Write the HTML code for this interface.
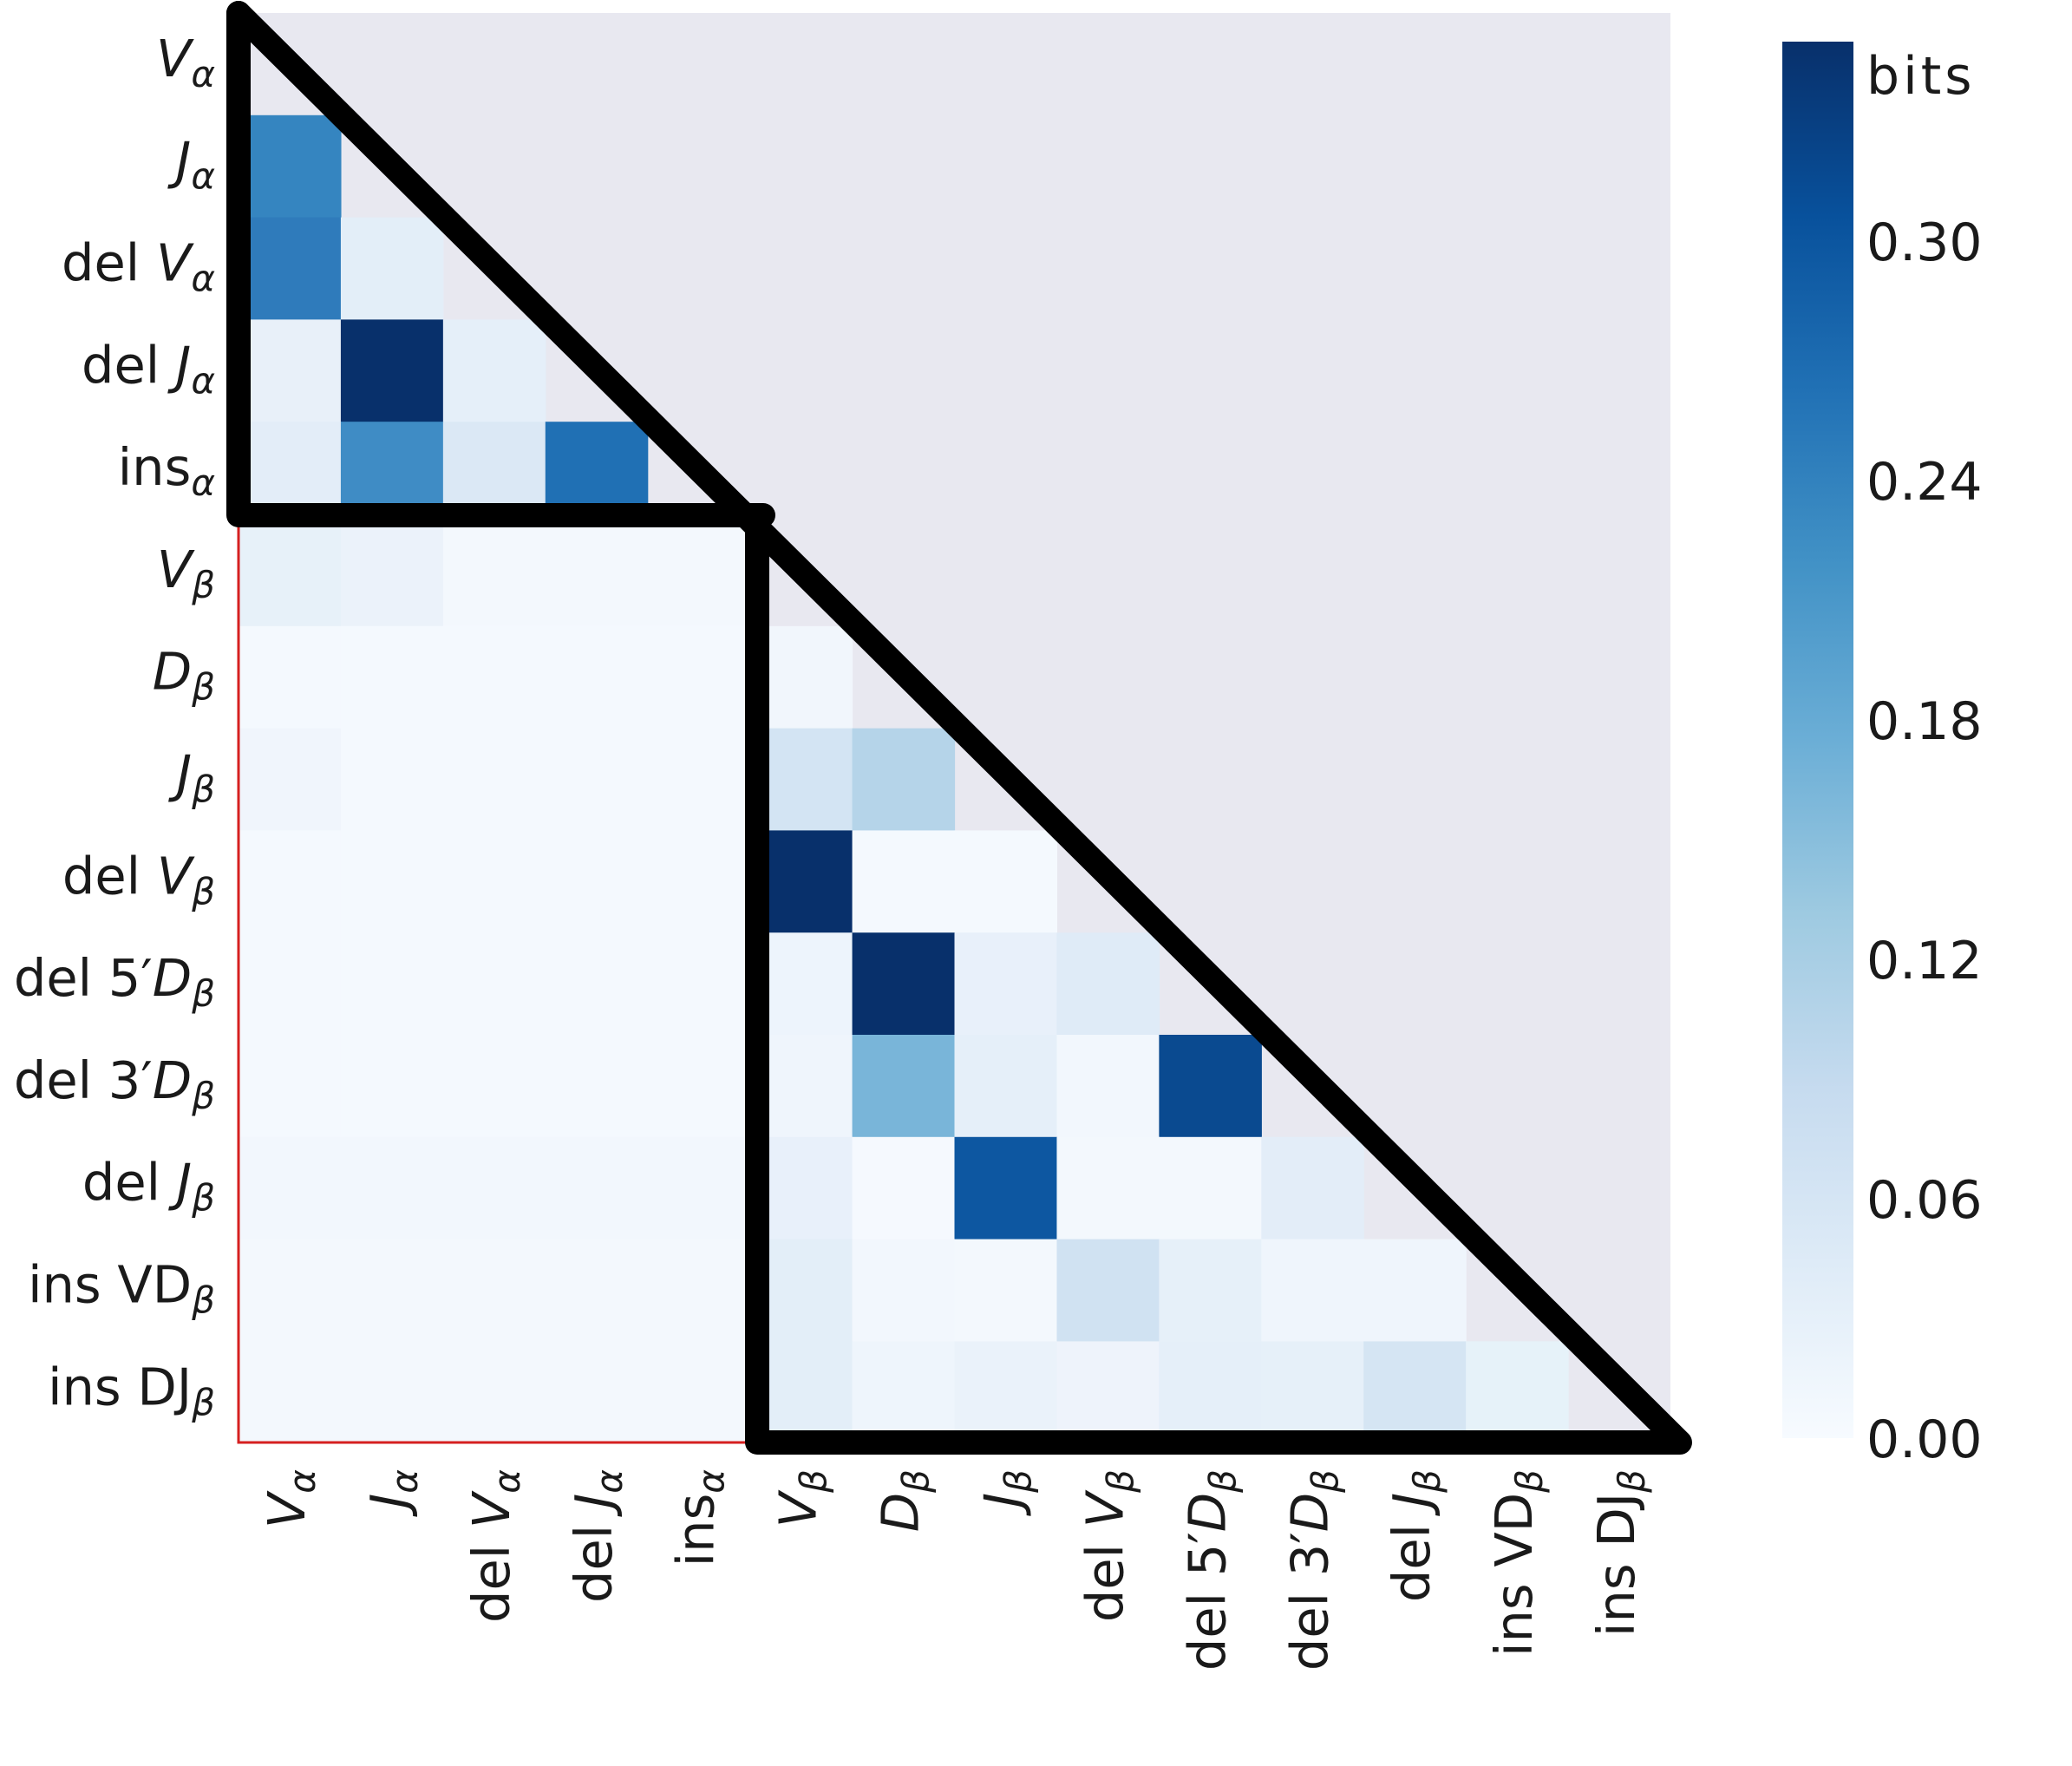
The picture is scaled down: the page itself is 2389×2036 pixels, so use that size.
<!DOCTYPE html>
<html><head><meta charset="utf-8"><style>
html,body{margin:0;padding:0;background:#fff}
svg{display:block}
text{font-family:"DejaVu Sans","Liberation Sans",sans-serif;fill:#1a1a1a}
.i{font-style:italic}
</style></head><body>
<svg width="2389" height="2036" viewBox="0 0 2389 2036" xmlns="http://www.w3.org/2000/svg">
<defs>
<linearGradient id="cb" x1="0" y1="1" x2="0" y2="0">
<stop offset="0" stop-color="#f7fbff"/><stop offset="0.125" stop-color="#deebf7"/>
<stop offset="0.25" stop-color="#c6dbef"/><stop offset="0.375" stop-color="#9ecae1"/>
<stop offset="0.5" stop-color="#6baed6"/><stop offset="0.625" stop-color="#4292c6"/>
<stop offset="0.75" stop-color="#2171b5"/><stop offset="0.875" stop-color="#08519c"/>
<stop offset="1" stop-color="#08306b"/>
</linearGradient>
</defs>
<rect x="275" y="15" width="1651" height="1649" fill="#e8e8f0"/>
<g id="cells"></g>
<polyline points="275,594 275,1663 873,1663" fill="none" stroke="#d62020" stroke-width="3"/>
<polyline points="275,15 275,594 880,594" fill="none" stroke="#000" stroke-width="28" stroke-linejoin="round" stroke-linecap="round"/>
<polyline points="275,15 1937,1663 873,1663 873,594" fill="none" stroke="#000" stroke-width="28" stroke-linejoin="round" stroke-linecap="round"/>
<rect x="2055" y="48" width="82" height="1610" fill="url(#cb)"/>
<g font-size="60">
<text x="2152" y="108" letter-spacing="4">bits</text>
<text x="2152" y="300">0.30</text>
<text x="2152" y="576">0.24</text>
<text x="2152" y="852">0.18</text>
<text x="2152" y="1128">0.12</text>
<text x="2152" y="1404">0.06</text>
<text x="2152" y="1680">0.00</text>
</g>
<g id="ylab" font-size="59" text-anchor="end"></g>
<g id="xlab" font-size="59" text-anchor="end"></g>
</svg>
<script>
var NS="http://www.w3.org/2000/svg";
var x0=275,y0=15,c=117.93,ch=117.8;
var M={
1:["#3585c0"],
2:["#2f7bbb","#e3eef8"],
3:["#e8f0f9","#08306b","#e5eff9"],
4:["#e3edf8","#3f8cc5","#dbe8f5","#2070b4"],
5:["#e7f1f9","#ebf2fa","#f3f8fd","#f3f8fd","#f3f8fd"],
6:["#f4f9fe","#f4f9fe","#f4f9fe","#f4f9fe","#f4f9fe","#f1f6fc"],
7:["#f0f5fc","#f4f9fe","#f4f9fe","#f4f9fe","#f4f9fe","#d3e4f3","#b5d4e9"],
8:["#f4f9fe","#f4f9fe","#f4f9fe","#f4f9fe","#f4f9fe","#08306b","#f4f9fe","#f4f9fe"],
9:["#f4f9fe","#f4f9fe","#f4f9fe","#f4f9fe","#f4f9fe","#edf4fc","#08306b","#e8f0fa","#dfebf7"],
10:["#f4f9fe","#f4f9fe","#f4f9fe","#f4f9fe","#f4f9fe","#eff5fc","#79b5d9","#e5eff9","#f2f7fd","#0a4a90"],
11:["#f2f7fd","#f2f7fd","#f2f7fd","#f2f7fd","#f2f7fd","#e8f0fa","#f5f9fe","#0d57a1","#f3f8fd","#f3f8fd","#e3edf8"],
12:["#f3f8fd","#f3f8fd","#f3f8fd","#f3f8fd","#f3f8fd","#e3eef8","#f2f7fd","#f3f8fd","#d0e2f2","#e6f0f9","#eff5fc","#eff5fc"],
13:["#f3f8fd","#f3f8fd","#f3f8fd","#f3f8fd","#f3f8fd","#e3eef8","#eef5fc","#eaf2fa","#eef3fb","#e5eff9","#e6f0f9","#d5e5f3","#e6f2f9"]};
var g=document.getElementById("cells");
for(var r in M){M[r].forEach(function(col,j){var e=document.createElementNS(NS,"rect");
e.setAttribute("x",x0+j*c);e.setAttribute("y",y0+r*ch);e.setAttribute("width",c+0.6);e.setAttribute("height",ch+0.6);e.setAttribute("fill",col);g.appendChild(e);});}
var L=[["","V","α"],["","J","α"],["del ","V","α"],["del ","J","α"],["ins","","α"],["","V","β"],["","D","β"],["","J","β"],["del ","V","β"],["del 5′","D","β"],["del 3′","D","β"],["del ","J","β"],["ins VD","","β"],["ins DJ","","β"]];
function mk(p,a){var t=document.createElementNS(NS,"text");for(var k in a)t.setAttribute(k,a[k]);
var s1=document.createElementNS(NS,"tspan");s1.textContent=p[0];t.appendChild(s1);
if(p[1]){var s2=document.createElementNS(NS,"tspan");s2.setAttribute("class","i");s2.textContent=p[1];t.appendChild(s2);}
var s3=document.createElementNS(NS,"tspan");s3.setAttribute("class","i");s3.setAttribute("font-size","42");s3.setAttribute("dy","12");s3.textContent=p[2];t.appendChild(s3);return t;}
var yl=document.getElementById("ylab"),xl=document.getElementById("xlab");
L.forEach(function(p,i){var cy=y0+ch*(i+0.5);
yl.appendChild(mk(p,{x:248,y:cy+14}));
var cx=x0+c*(i+0.5)+17;
xl.appendChild(mk(p,{x:0,y:0,transform:"translate("+cx+",1694) rotate(-90)"}));});
</script>
</body></html>
